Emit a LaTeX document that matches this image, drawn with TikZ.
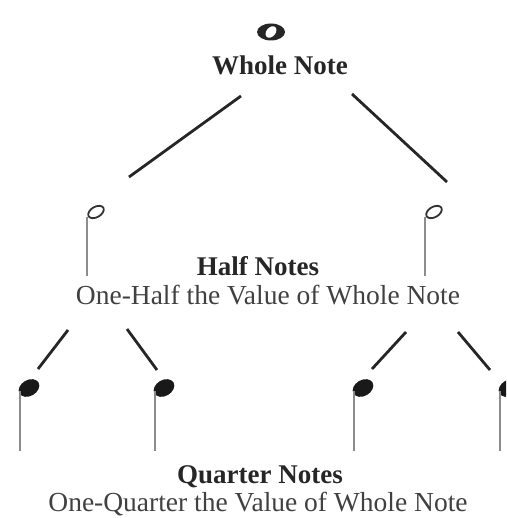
\documentclass[tikz,border=0pt]{standalone}
\usepackage{fontspec}
\setmainfont{Liberation Serif}
\begin{document}
\begin{tikzpicture}[x=1pt,y=-1pt,
  conn/.style={line width=2.8pt,draw=black!85},
  stem/.style={line width=2pt,draw=black!45},
  title/.style={font=\fontsize{27}{27}\selectfont\bfseries,text=black!85,inner sep=0pt,anchor=base},
  sub/.style={font=\fontsize{27.5}{27.5}\selectfont,text=black!75,inner sep=0pt,anchor=base},
  nd/.style={inner sep=0pt,minimum size=0pt}]
\useasboundingbox (0,0) rectangle (506,518);
\clip (0,0) rectangle (506,518);

% whole note
\node[nd] (w) at (271,32) {};
\fill[black!85] (w) ellipse [x radius=14, y radius=8.5];
\fill[white, rotate around={-40:(w)}] (w) ellipse [x radius=4.5, y radius=6.5];
\node[title] (wt) at (280,75) {Whole Note};

% half notes
\node[nd] (h1) at (96,212) {};
\node[nd] (h2) at (434,212) {};
\foreach \h/\sx in {h1/86.5,h2/424.5}{
  \draw[black!80,line width=1.8pt,rotate around={30:(\h)}] (\h) ellipse [x radius=8.5, y radius=5.2];
  \coordinate (\h s) at (\sx,217);
  \coordinate (\h e) at (\sx,276);
  \draw[stem] (\h s) -- (\h e);
}
\node[title] (ht) at (258,275) {Half Notes};
\node[sub] (hs) at (268,304) {One-Half the Value of Whole Note};

% quarter notes
\node[nd] (q1) at (29,388) {};
\node[nd] (q2) at (164,388) {};
\node[nd] (q3) at (363,388) {};
\node[nd] (q4) at (509,388) {};
\foreach \q/\sx in {q1/19.5,q2/154.5,q3/353.5,q4/499.5}{
  \fill[black!90,rotate around={30:(\q)}] (\q) ellipse [x radius=11, y radius=8];
  \coordinate (\q s) at (\sx,391);
  \coordinate (\q e) at (\sx,451);
  \draw[stem] (\q s) -- (\q e);
}
\node[title] (qt) at (260,483) {Quarter Notes};
\node[sub] (qs) at (258,511) {One-Quarter the Value of Whole Note};

% connectors
\coordinate (a1) at (241,96);  \coordinate (a2) at (129,177);
\coordinate (b1) at (352,94);  \coordinate (b2) at (447,182);
\draw[conn] (a1) -- (a2);
\draw[conn] (b1) -- (b2);
\coordinate (c1) at (68,330);  \coordinate (c2) at (38,369);
\coordinate (d1) at (127,329); \coordinate (d2) at (157,370);
\coordinate (e1) at (406,332); \coordinate (e2) at (372,369);
\coordinate (f1) at (458,332); \coordinate (f2) at (490,370);
\draw[conn] (c1) -- (c2);
\draw[conn] (d1) -- (d2);
\draw[conn] (e1) -- (e2);
\draw[conn] (f1) -- (f2);
\end{tikzpicture}
\end{document}
